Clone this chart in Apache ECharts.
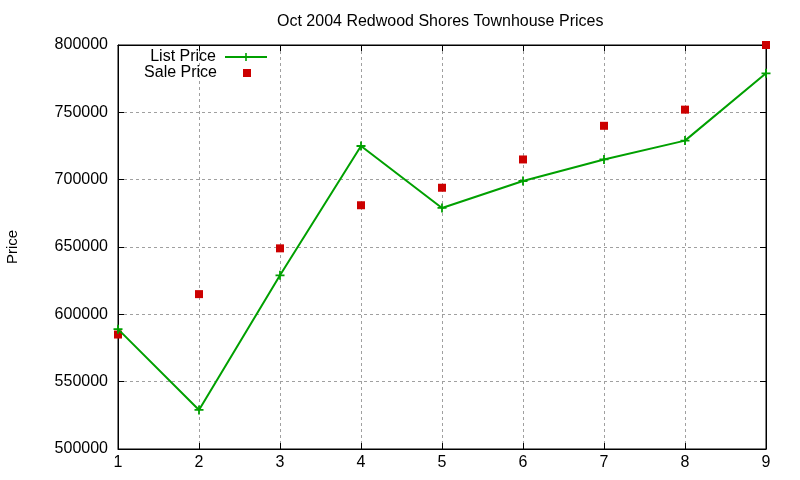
<!DOCTYPE html>
<html>
<head>
<meta charset="utf-8">
<script src="https://cdn.jsdelivr.net/npm/echarts@6/dist/echarts.min.js"></script>
<style>html,body{margin:0;padding:0;background:#fff;}#chart{width:800px;height:480px;}</style>
</head>
<body>
<div id="chart"></div>
<script>
const titleText = 'Oct 2004 Redwood Shores Townhouse Prices';
const xValues = [1, 2, 3, 4, 5, 6, 7, 8, 9];
const listPrice = [589000, 529000, 629000, 725000, 679000, 699000, 715000, 729000, 779000];
const salePrice = [585000, 615000, 649000, 681000, 694000, 715000, 740000, 752000, 800000];
const seriesNames = ['List Price', 'Sale Price'];
const yAxisName = 'Price';

const FONT = 'Liberation Sans, Arial, sans-serif';
const plusPath = 'path://M4,0h2v4h4v2h-4v4h-2v-4h-4v-2h4z';

const chart = echarts.init(document.getElementById('chart'), null, {renderer: 'canvas'});
const gridLine = {show: true, lineStyle: {color: '#a0a0a0', type: [3, 3], width: 1}};
chart.setOption({
  animation: false,
  backgroundColor: '#fff',
  title: {
    text: titleText, left: 272, top: 9,
    textStyle: {fontFamily: FONT, fontSize: 16, fontWeight: 'normal', color: '#000'}
  },
  legend: [
    {data: [seriesNames[0]], orient: 'vertical', align: 'right', right: 532, top: 49, padding: 0,
     itemWidth: 42, itemHeight: 10, selectedMode: false,
     textStyle: {fontFamily: FONT, fontSize: 16, color: '#000', padding: [0, 4, 0, 0]}},
    {data: [{name: seriesNames[1], lineStyle: {opacity: 0}}], orient: 'vertical', align: 'right', right: 532, top: 65, padding: 0,
     itemWidth: 42, itemHeight: 10, selectedMode: false,
     textStyle: {fontFamily: FONT, fontSize: 16, color: '#000', padding: [0, 4, 0, 0]}}
  ],
  grid: {left: 118, right: 34, top: 45, bottom: 31, show: true, borderColor: '#000', borderWidth: 1,
         containLabel: false, outerBoundsMode: 'none'},
  xAxis: [
    {type: 'value', min: 1, max: 9, interval: 1, position: 'bottom',
     axisLine: {show: true, onZero: false, lineStyle: {color: '#000', width: 1}},
     axisTick: {show: true, inside: true, length: 6, lineStyle: {color: '#000'}},
     axisLabel: {fontFamily: FONT, fontSize: 16, color: '#000', margin: 6},
     splitLine: gridLine},
    {type: 'value', min: 1, max: 9, interval: 1, position: 'top',
     axisLine: {show: true, onZero: false, lineStyle: {color: '#000', width: 1}},
     axisTick: {show: true, inside: true, length: 6, lineStyle: {color: '#000'}},
     axisLabel: {show: false}, splitLine: {show: false}}
  ],
  yAxis: [
    {type: 'value', min: 500000, max: 800000, interval: 50000, position: 'left',
     name: yAxisName, nameLocation: 'middle', nameRotate: 90, nameGap: 98,
     nameTextStyle: {fontFamily: FONT, fontSize: 15, color: '#000'},
     axisLine: {show: true, onZero: false, lineStyle: {color: '#000', width: 1}},
     axisTick: {show: true, inside: true, length: 6, lineStyle: {color: '#000'}},
     axisLabel: {fontFamily: FONT, fontSize: 16, color: '#000', margin: 10, formatter: v => String(v)},
     splitLine: gridLine},
    {type: 'value', min: 500000, max: 800000, interval: 50000, position: 'right',
     axisLine: {show: true, onZero: false, lineStyle: {color: '#000', width: 1}},
     axisTick: {show: true, inside: true, length: 6, lineStyle: {color: '#000'}},
     axisLabel: {show: false}, splitLine: {show: false}}
  ],
  series: [
    {name: seriesNames[0], type: 'line', xAxisIndex: 0, yAxisIndex: 0,
     data: xValues.map((x, i) => [x, listPrice[i]]),
     symbol: plusPath, symbolSize: 9, showSymbol: true, clip: false,
     lineStyle: {color: '#00a000', width: 2}, itemStyle: {color: '#00a000'},
     emphasis: {disabled: true}, z: 3},
    {name: seriesNames[1], type: 'line', xAxisIndex: 0, yAxisIndex: 0,
     data: xValues.map((x, i) => [x, salePrice[i]]),
     symbol: 'rect', symbolSize: 8, showSymbol: true, clip: false,
     lineStyle: {color: '#cc0000', width: 0, opacity: 0}, itemStyle: {color: '#cc0000'},
     emphasis: {disabled: true}, z: 2}
  ]
});
</script>
</body>
</html>
